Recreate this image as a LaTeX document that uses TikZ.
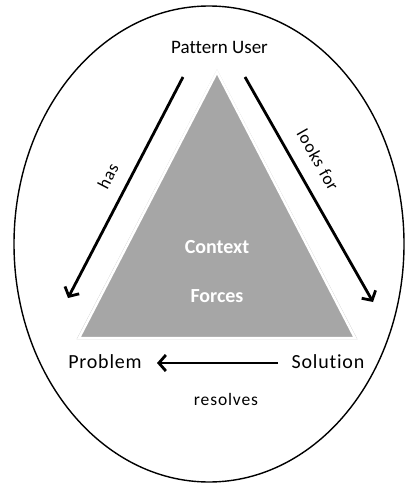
\documentclass[tikz,border=0pt]{standalone}
\usepackage{fontspec}
\setmainfont[Ligatures=NoCommon]{Carlito}
\usetikzlibrary{arrows.meta,calc}
\definecolor{trigrey}{HTML}{A6A6A6}
\newfontfamily\wideface[LetterSpace=4,Ligatures=NoCommon]{Carlito}
\newfontfamily\smallface[LetterSpace=5,Ligatures=NoCommon]{Carlito}
\tikzset{
  lbl/.style={font=\fontsize{19}{22}\selectfont, inner sep=0pt},
  wlbl/.style={font=\wideface\fontsize{20}{23}\selectfont, inner sep=0pt},
  small/.style={font=\smallface\fontsize{17.5}{20}\selectfont, inner sep=0pt},
  inner/.style={font=\bfseries\fontsize{20}{23}\selectfont, text=white, inner sep=0pt},
  conn/.style={line width=2.8pt, -{Straight Barb[length=7pt,width=16pt,line width=2.8pt]}},
}
\begin{document}
\begin{tikzpicture}[x=1pt,y=-1pt]
\useasboundingbox (0,0) rectangle (406,486);
% outer ellipse
\draw[line width=1.4pt] (209,244) ellipse [x radius=195pt, y radius=238pt];
% triangle
\coordinate (apex) at (217,72);
\coordinate (bl) at (79,338);
\coordinate (br) at (355,338);
\draw[draw=gray!40, line width=0.6pt] ($(apex)+(0,-2)$) -- ($(bl)+(-2,1)$) -- ($(br)+(2,1)$) -- cycle;
\filldraw[fill=trigrey, draw=white, line width=2.5pt] (apex) -- (bl) -- (br) -- cycle;
% labels
\node[lbl] (pu) at (219.5,47) {Pattern User};
\node[wlbl] (pr) at (105,362) {Problem};
\node[wlbl] (so) at (328,362) {Solution};
\node[inner] (ctx) at (217,247) {Context};
\node[inner] (frc) at (217,296) {Forces};
% arrows
\coordinate (h1) at (183,77);
\coordinate (h2) at (68,298);
\coordinate (l1) at (245,77);
\coordinate (l2) at (373,302);
\coordinate (r1) at (278,363);
\coordinate (r2) at (157,363);
\draw[conn] (h1) -- (h2);
\draw[conn] (l1) -- (l2);
\draw[conn] (r1) -- (r2);
\node[small, rotate=62.5] (has) at (108,176) {has};
\node[small, rotate=-60.4] (lf) at (318,160) {looks for};
\node[small] (res) at (226,399) {resolves};
\end{tikzpicture}
\end{document}
